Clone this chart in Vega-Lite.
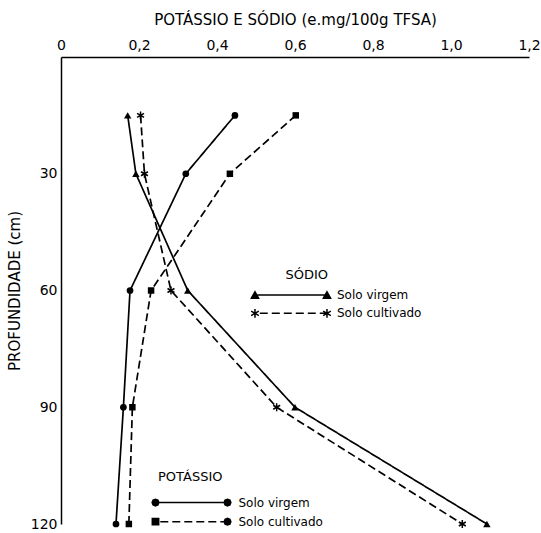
{
  "$schema": "https://vega.github.io/schema/vega-lite/v6.json",
  "width": 468,
  "height": 467,
  "autosize": "none",
  "padding": {"left": 61, "top": 57, "right": 12, "bottom": 9},
  "background": "white",
  "config": {"view": {"stroke": null}, "text": {"font": "DejaVu Sans", "color": "black"}},
  "data": {
    "values": [
      {"elemento": "Potássio", "solo": "Solo virgem", "prof": 15, "valor": 0.446},
      {"elemento": "Potássio", "solo": "Solo virgem", "prof": 30, "valor": 0.32},
      {"elemento": "Potássio", "solo": "Solo virgem", "prof": 60, "valor": 0.177},
      {"elemento": "Potássio", "solo": "Solo virgem", "prof": 90, "valor": 0.16},
      {"elemento": "Potássio", "solo": "Solo virgem", "prof": 120, "valor": 0.141},
      {"elemento": "Potássio", "solo": "Solo cultivado", "prof": 15, "valor": 0.602},
      {"elemento": "Potássio", "solo": "Solo cultivado", "prof": 30, "valor": 0.433},
      {"elemento": "Potássio", "solo": "Solo cultivado", "prof": 60, "valor": 0.231},
      {"elemento": "Potássio", "solo": "Solo cultivado", "prof": 90, "valor": 0.183},
      {"elemento": "Potássio", "solo": "Solo cultivado", "prof": 120, "valor": 0.174},
      {"elemento": "Sódio", "solo": "Solo virgem", "prof": 15, "valor": 0.171},
      {"elemento": "Sódio", "solo": "Solo virgem", "prof": 30, "valor": 0.192},
      {"elemento": "Sódio", "solo": "Solo virgem", "prof": 60, "valor": 0.325},
      {"elemento": "Sódio", "solo": "Solo virgem", "prof": 90, "valor": 0.6},
      {"elemento": "Sódio", "solo": "Solo virgem", "prof": 120, "valor": 1.092},
      {"elemento": "Sódio", "solo": "Solo cultivado", "prof": 15, "valor": 0.204},
      {"elemento": "Sódio", "solo": "Solo cultivado", "prof": 30, "valor": 0.214},
      {"elemento": "Sódio", "solo": "Solo cultivado", "prof": 60, "valor": 0.282},
      {"elemento": "Sódio", "solo": "Solo cultivado", "prof": 90, "valor": 0.553},
      {"elemento": "Sódio", "solo": "Solo cultivado", "prof": 120, "valor": 1.029}
    ]
  },
  "encoding": {
    "x": {
      "field": "valor", "type": "quantitative",
      "scale": {"domain": [0, 1.2], "nice": false, "zero": false},
      "axis": null
    },
    "y": {
      "field": "prof", "type": "quantitative",
      "scale": {"domain": [0, 120], "reverse": true, "nice": false, "zero": false},
      "axis": null
    }
  },
  "layer": [
    {
      "mark": {"type": "line", "color": "black", "strokeWidth": 1.7},
      "encoding": {
        "x": {
          "field": "valor", "type": "quantitative",
          "axis": {
            "orient": "top", "grid": false,
            "title": "POTÁSSIO E SÓDIO (e.mg/100g TFSA)",
            "titleFont": "DejaVu Sans", "titleColor": "black",
            "titleFontSize": 15, "titleFontWeight": "normal", "titlePadding": 11,
            "values": [0, 0.2, 0.4, 0.6, 0.8, 1.0, 1.2],
            "labelExpr": "datum.value == 0 ? '0' : replace(format(datum.value, '.1f'), '.', ',')",
            "labelFont": "DejaVu Sans", "labelColor": "black", "labelFontSize": 14,
            "domainColor": "black", "domainWidth": 1.5,
            "ticks": false, "labelPadding": 5, "labelFlush": false
          }
        },
        "y": {
          "field": "prof", "type": "quantitative",
          "axis": {
            "orient": "left", "grid": false,
            "title": "PROFUNDIDADE (cm)",
            "titleFont": "DejaVu Sans", "titleColor": "black",
            "titleFontSize": 15, "titleFontWeight": "normal", "titlePadding": 8,
            "values": [30, 60, 90, 120],
            "labelFont": "DejaVu Sans", "labelColor": "black", "labelFontSize": 14,
            "domainColor": "black", "domainWidth": 1.5,
            "ticks": false, "labelPadding": 4, "labelFlush": false
          }
        },
        "detail": {"field": "elemento", "type": "nominal"},
        "order": {"field": "prof", "type": "quantitative"},
        "strokeDash": {"field": "solo", "type": "nominal", "scale": {"domain": ["Solo virgem", "Solo cultivado"], "range": [[1, 0], [8, 4]]}, "legend": null}
      }
    },
    {
      "transform": [{"filter": "datum.elemento === 'Sódio' && datum.solo === 'Solo virgem'"}],
      "mark": {"type": "point", "shape": "triangle-up", "filled": true, "color": "black", "opacity": 1, "size": 55}
    },
    {
      "transform": [{"filter": "datum.elemento === 'Sódio' && datum.solo === 'Solo cultivado'"}],
      "mark": {"type": "point", "shape": "M0,-1V1M-0.87,-0.5L0.87,0.5M-0.87,0.5L0.87,-0.5", "filled": false, "color": "black", "strokeWidth": 1.5, "opacity": 1, "size": 64}
    },
    {
      "transform": [{"filter": "datum.elemento === 'Potássio' && datum.solo === 'Solo virgem'"}],
      "mark": {"type": "point", "shape": "circle", "filled": true, "color": "black", "opacity": 1, "size": 45}
    },
    {
      "transform": [{"filter": "datum.elemento === 'Potássio' && datum.solo === 'Solo cultivado'"}],
      "mark": {"type": "point", "shape": "square", "filled": true, "color": "black", "opacity": 1, "size": 42}
    },
    {
      "transform": [{"filter": "datum.elemento === 'Sódio' && datum.solo === 'Solo virgem' && datum.prof === 15"}],
      "mark": {"type": "text", "text": "SÓDIO", "fontSize": 13, "align": "center", "baseline": "middle"},
      "encoding": {"x": {"datum": 0.63, "type": "quantitative", "axis": null}, "y": {"datum": 56.0, "type": "quantitative", "axis": null}}
    },
    {
      "transform": [{"filter": "datum.elemento === 'Sódio' && datum.solo === 'Solo virgem' && datum.prof === 15"}],
      "mark": {"type": "point", "shape": "M0,0H9M-0.45,0.4L0,-0.4L0.45,0.4ZM8.55,0.4L9,-0.4L9.45,0.4Z", "filled": true, "color": "black", "stroke": "black", "strokeWidth": 1.5, "opacity": 1, "size": 256},
      "encoding": {"x": {"datum": 0.4974, "type": "quantitative", "axis": null}, "y": {"datum": 61.16, "type": "quantitative", "axis": null}}
    },
    {
      "transform": [{"filter": "datum.elemento === 'Sódio' && datum.solo === 'Solo virgem' && datum.prof === 15"}],
      "mark": {"type": "text", "fontSize": 12, "align": "left", "baseline": "middle"},
      "encoding": {"text": {"field": "solo"}, "x": {"datum": 0.7077, "type": "quantitative", "axis": null}, "y": {"datum": 61.16, "type": "quantitative", "axis": null}}
    },
    {
      "transform": [{"filter": "datum.elemento === 'Sódio' && datum.solo === 'Solo cultivado' && datum.prof === 15"}],
      "mark": {"type": "point", "shape": "M0.6,0H1.6M2.1,0H3.1M3.6,0H4.6M5.1,0H6.1M6.6,0H7.6M8.1,0H9M0,-0.55V0.55M-0.48,-0.28L0.48,0.28M-0.48,0.28L0.48,-0.28M9,-0.55V0.55M8.52,-0.28L9.48,0.28M8.52,0.28L9.48,-0.28", "filled": false, "color": "black", "strokeWidth": 1.5, "opacity": 1, "size": 256},
      "encoding": {"x": {"datum": 0.4974, "type": "quantitative", "axis": null}, "y": {"datum": 65.86, "type": "quantitative", "axis": null}}
    },
    {
      "transform": [{"filter": "datum.elemento === 'Sódio' && datum.solo === 'Solo cultivado' && datum.prof === 15"}],
      "mark": {"type": "text", "fontSize": 12, "align": "left", "baseline": "middle"},
      "encoding": {"text": {"field": "solo"}, "x": {"datum": 0.7077, "type": "quantitative", "axis": null}, "y": {"datum": 65.86, "type": "quantitative", "axis": null}}
    },
    {
      "transform": [{"filter": "datum.elemento === 'Potássio' && datum.solo === 'Solo virgem' && datum.prof === 15"}],
      "mark": {"type": "text", "text": "POTÁSSIO", "fontSize": 13, "align": "left", "baseline": "middle"},
      "encoding": {"x": {"datum": 0.2487, "type": "quantitative", "axis": null}, "y": {"datum": 108.05, "type": "quantitative", "axis": null}}
    },
    {
      "transform": [{"filter": "datum.elemento === 'Potássio' && datum.solo === 'Solo virgem' && datum.prof === 15"}],
      "mark": {"type": "point", "shape": "M0,0H9M0.42,0L0.3,0.3L0,0.42L-0.3,0.3L-0.42,0L-0.3,-0.3L0,-0.42L0.3,-0.3ZM9.42,0L9.3,0.3L9,0.42L8.7,0.3L8.58,0L8.7,-0.3L9,-0.42L9.3,-0.3Z", "filled": true, "color": "black", "stroke": "black", "strokeWidth": 1.5, "opacity": 1, "size": 256},
      "encoding": {"x": {"datum": 0.2423, "type": "quantitative", "axis": null}, "y": {"datum": 114.5, "type": "quantitative", "axis": null}}
    },
    {
      "transform": [{"filter": "datum.elemento === 'Potássio' && datum.solo === 'Solo virgem' && datum.prof === 15"}],
      "mark": {"type": "text", "fontSize": 12, "align": "left", "baseline": "middle"},
      "encoding": {"text": {"field": "solo"}, "x": {"datum": 0.4551, "type": "quantitative", "axis": null}, "y": {"datum": 114.5, "type": "quantitative", "axis": null}}
    },
    {
      "transform": [{"filter": "datum.elemento === 'Potássio' && datum.solo === 'Solo cultivado' && datum.prof === 15"}],
      "mark": {"type": "point", "shape": "M0.6,0H1.6M2.1,0H3.1M3.6,0H4.6M5.1,0H6.1M6.6,0H7.6M8.1,0H9M-0.4,-0.4H0.4V0.4H-0.4ZM9.42,0L9.3,0.3L9,0.42L8.7,0.3L8.58,0L8.7,-0.3L9,-0.42L9.3,-0.3Z", "filled": true, "color": "black", "stroke": "black", "strokeWidth": 1.5, "opacity": 1, "size": 256},
      "encoding": {"x": {"datum": 0.2423, "type": "quantitative", "axis": null}, "y": {"datum": 119.4, "type": "quantitative", "axis": null}}
    },
    {
      "transform": [{"filter": "datum.elemento === 'Potássio' && datum.solo === 'Solo cultivado' && datum.prof === 15"}],
      "mark": {"type": "text", "fontSize": 12, "align": "left", "baseline": "middle"},
      "encoding": {"text": {"field": "solo"}, "x": {"datum": 0.4551, "type": "quantitative", "axis": null}, "y": {"datum": 119.4, "type": "quantitative", "axis": null}}
    }
  ],
  "resolve": {"axis": {"x": "independent", "y": "independent"}}
}
